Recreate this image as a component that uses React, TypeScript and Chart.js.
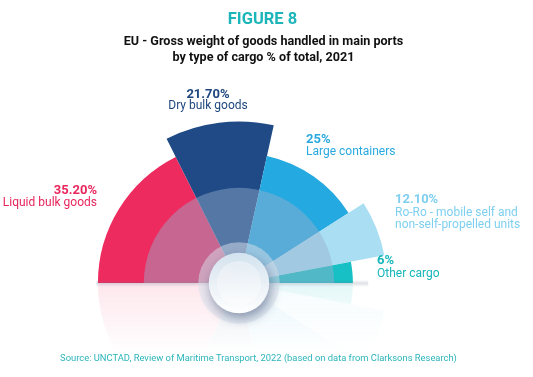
import React, { useEffect, useRef } from "react";
import { Chart, registerables } from "chart.js";

Chart.register(...registerables);

// ---- data ----
const categories = [
  "Liquid bulk goods",
  "Dry bulk goods",
  "Large containers",
  "Ro-Ro - mobile self and non-self-propelled units",
  "Other cargo",
];
const shares = [35.2, 21.7, 25, 12.1, 6]; // % of total -> arc angle
const shareLabels = ["35.20%", "21.70%", "25%", "12.10%", "6%"];
const radialLengths = [83, 95, 76.5, 87, 67]; // relative radial extent of each sector

const segmentColors = ["#EE2B5F", "#1F4A86", "#25A9E1", "#A9DEF3", "#17C0C4"];
const labelColors = ["#E8265C", "#1D467F", "#29A9E0", "#7ECFF0", "#17B6BA"];

const W = 533;
const H = 377;
const CH = 470;
const FONT = "Roboto, 'DejaVu Sans', sans-serif";

const decor = {
  id: "decor",
  afterDatasetsDraw(chart: any) {
    const { ctx, canvas } = chart;
    const scale = chart.scales.r;
    const cx = scale.xCenter;
    const cy = scale.yCenter;
    const R = scale.drawingArea;
    const reflH = 70;

    // reflection
    ctx.save();
    ctx.globalAlpha = 0.11;
    ctx.translate(0, 2 * cy);
    ctx.scale(1, -1);
    ctx.drawImage(canvas, 0, cy - reflH, W, reflH, 0, cy - reflH, W, reflH);
    ctx.restore();
    ctx.save();
    const fade = ctx.createLinearGradient(0, cy, 0, cy + reflH);
    fade.addColorStop(0, "rgba(255,255,255,0)");
    fade.addColorStop(1, "rgba(255,255,255,1)");
    ctx.fillStyle = fade;
    ctx.fillRect(0, cy, W, reflH + 1);
    ctx.restore();

    // baseline shadow
    ctx.save();
    const bl = ctx.createLinearGradient(0, cy - 3, 0, cy + 4);
    bl.addColorStop(0, "rgba(90,100,130,0)");
    bl.addColorStop(0.45, "rgba(90,100,130,0.2)");
    bl.addColorStop(1, "rgba(90,100,130,0)");
    ctx.fillStyle = bl;
    ctx.fillRect(cx - R * 0.84, cy - 3, R * 0.84 + R * 0.76, 7);
    ctx.restore();

    // inner translucent half disc
    ctx.save();
    ctx.beginPath();
    ctx.moveTo(cx, cy);
    ctx.arc(cx, cy, R * 0.56, Math.PI, 2 * Math.PI);
    ctx.closePath();
    ctx.fillStyle = "rgba(150,175,205,0.45)";
    ctx.fill();
    ctx.restore();

    // ring
    ctx.save();
    ctx.beginPath();
    ctx.arc(cx, cy, R * 0.24, 0, 2 * Math.PI);
    ctx.fillStyle = "rgba(215,223,236,0.5)";
    ctx.fill();
    ctx.restore();

    // centre disc
    ctx.save();
    ctx.beginPath();
    ctx.arc(cx, cy, R * 0.178, 0, 2 * Math.PI);
    ctx.shadowColor = "rgba(40,60,100,0.5)";
    ctx.shadowBlur = 12;
    ctx.shadowOffsetX = 2;
    ctx.shadowOffsetY = 5;
    const cg = ctx.createLinearGradient(0, cy - R * 0.18, 0, cy + R * 0.18);
    cg.addColorStop(0, "rgba(214,230,241,0.95)");
    cg.addColorStop(0.5, "rgba(236,243,248,0.97)");
    cg.addColorStop(1, "#ffffff");
    ctx.fillStyle = cg;
    ctx.fill();
    ctx.restore();
    ctx.save();
    ctx.beginPath();
    ctx.arc(cx, cy, R * 0.13, 0, 2 * Math.PI);
    ctx.fillStyle = "rgba(255,255,255,0.35)";
    ctx.fill();
    ctx.restore();
  },
};

type Lbl = { text: string; color: string; bold?: boolean; left?: number; right?: number; center?: number; top: number; size: number };

const labels: Lbl[] = [
  { text: shareLabels[1], color: labelColors[1], bold: true, center: 208, top: 87, size: 13 },
  { text: categories[1], color: labelColors[1], center: 208, top: 99, size: 12 },
  { text: shareLabels[0], color: labelColors[0], bold: true, right: 97, top: 183, size: 13 },
  { text: categories[0], color: labelColors[0], right: 97, top: 196, size: 12 },
  { text: shareLabels[2], color: labelColors[2], bold: true, left: 306, top: 132, size: 13 },
  { text: categories[2], color: labelColors[2], left: 306, top: 145, size: 12 },
  { text: shareLabels[3], color: labelColors[3], bold: true, left: 395, top: 192, size: 13 },
  { text: "Ro-Ro - mobile self and", color: labelColors[3], left: 395, top: 206, size: 12 },
  { text: "non-self-propelled units", color: labelColors[3], left: 395, top: 218, size: 12 },
  { text: shareLabels[4], color: labelColors[4], bold: true, left: 377, top: 253, size: 13 },
  { text: categories[4], color: labelColors[4], left: 377, top: 267, size: 12 },
];

function Text({ l }: { l: Lbl }) {
  const style: any = {
    position: "absolute",
    top: l.top,
    fontFamily: FONT,
    fontSize: l.size,
    lineHeight: l.size + "px",
    fontWeight: l.bold ? 700 : 400,
    color: l.color,
    whiteSpace: "nowrap",
  };
  if (l.left !== undefined) style.left = l.left;
  if (l.right !== undefined) {
    style.right = W - l.right;
    style.textAlign = "right";
  }
  if (l.center !== undefined) {
    style.left = l.center - 150;
    style.width = 300;
    style.textAlign = "center";
  }
  return <div style={style}>{l.text}</div>;
}

export default function App() {
  const ref = useRef<HTMLCanvasElement | null>(null);
  useEffect(() => {
    if (!ref.current) return;
    const chart = new Chart(ref.current, {
      type: "polarArea",
      data: {
        labels: categories,
        datasets: [
          {
            data: radialLengths,
            backgroundColor: segmentColors,
            borderWidth: 0,
            angle: (c: any) => shares[c.dataIndex] * 1.8,
          } as any,
        ],
      },
      options: {
        responsive: false,
        animation: false,
        devicePixelRatio: 1,
        layout: { padding: { left: 69, right: 124, top: 113, bottom: CH - 453 } },
        plugins: { legend: { display: false }, tooltip: { enabled: false } },
        scales: {
          r: { display: false, min: 0, max: 100, startAngle: -90 } as any,
        },
      } as any,
      plugins: [decor],
    });
    return () => chart.destroy();
  }, []);

  return (
    <div
      style={{
        position: "fixed",
        left: 0,
        top: 0,
        width: W,
        height: H,
        overflow: "hidden",
        background: "#ffffff",
      }}
    >
      <canvas ref={ref} width={W} height={CH} style={{ position: "absolute", left: 0, top: 0, width: W, height: CH }} />
      <div
        style={{
          position: "absolute",
          left: 0,
          width: W,
          top: 11,
          textAlign: "center",
          fontFamily: FONT,
          fontWeight: 700,
          fontSize: 16.5,
          lineHeight: "16.5px",
          color: "#1CB5B9",
        }}
      >
        <span style={{ position: "relative", left: -4 }}>FIGURE 8</span>
      </div>
      <div
        style={{
          position: "absolute",
          left: 0,
          width: W,
          top: 32.5,
          textAlign: "center",
          fontFamily: FONT,
          fontWeight: 700,
          fontSize: 12.6,
          lineHeight: "16.5px",
          color: "#111111",
        }}
      >
        <div style={{ position: "relative", left: -3 }}>EU - Gross weight of goods handled in main ports</div>
        <div style={{ position: "relative", left: -3 }}>by type of cargo % of total, 2021</div>
      </div>
      {labels.map((l, i) => (
        <Text key={i} l={l} />
      ))}
      <div
        style={{
          position: "absolute",
          left: 0,
          width: W,
          top: 353,
          textAlign: "center",
          fontFamily: FONT,
          fontSize: 9.4,
          lineHeight: "10px",
          color: "#2BB5BA",
        }}
      >
        <span style={{ position: "relative", left: -8 }}>
          Source: UNCTAD, Review of Maritime Transport, 2022 (based on data from Clarksons Research)
        </span>
      </div>
    </div>
  );
}
